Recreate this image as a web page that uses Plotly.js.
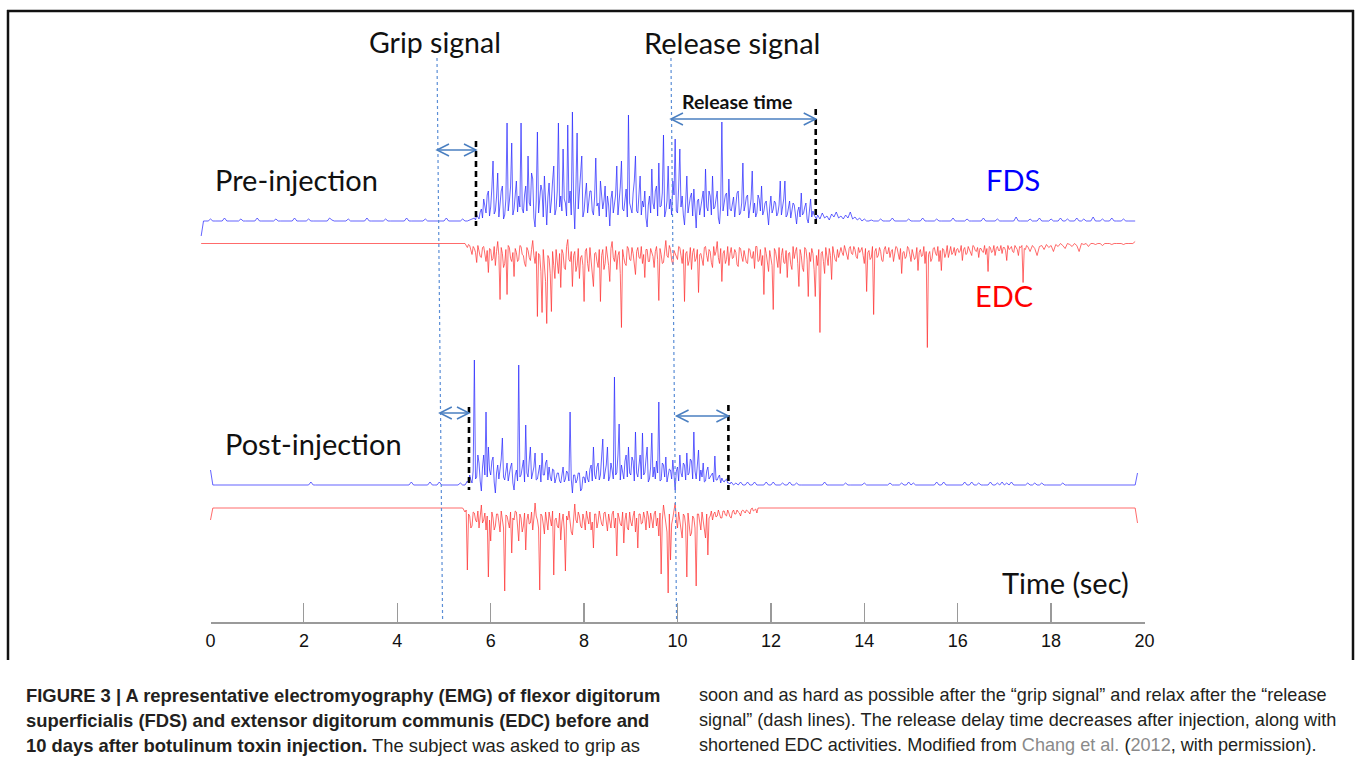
<!DOCTYPE html>
<html>
<head>
<meta charset="utf-8">
<script src="https://cdn.plot.ly/plotly-3.0.1.min.js"></script>
<style>html,body{margin:0;padding:0;background:#fff;}#chart{width:1357px;height:762px;}</style>
</head>
<body>
<div id="chart"></div>
<script>
// ---------------- DATA ----------------
// Sampling steps (s): resting parts and bursts
const restStep = 0.05;
const burstStep = 0.025;

// ---- Pre-injection FDS (a.u., positive up) ----
const preFDSRest1Start = -0.2;
const preFDSRest1 = [
-15,
0,0,0,2,0,0,0,0,0,3, 0,0,0,0,0,0,2,0,0,0,
0,0,0,3,0,0,0,0,0,0, 0,2,0,0,0,0,0,0,0,3,
0,0,0,0,0,2,0,0,0,0, 0,0,0,0,3,1,0,0,0,0,
0,0,2,0,0,0,0,0,0,0, 3,0,0,0,0,0,0,0,2,0,
0,0,0,0,0,0,0,3,0,0, 0,0,0,0,0,2,0,0,0,0,
0,0,0,0,3,0,0,0,0,0, 0,2,0,0,1,2
];
const preFDSBurstStart = 5.65;
const preFDSBurst = [
3,1,6,4,2,9,12,3,22,15,8,26,30,5,14,33,60,7,10,24,
48,4,18,30,35,2,6,22,98,10,20,34,78,6,12,28,40,9,25,14,
98,12,8,26,35,10,65,18,15,48,42,3,-6,20,89,8,22,36,30,4,
45,16,-4,24,38,8,20,40,55,6,12,30,98,14,25,10,72,22,18,5,
96,18,30,6,109,20,-8,34,88,12,28,50,65,4,10,26,38,8,22,30,
30,10,6,24,63,15,18,5,40,28,12,20,35,4,25,16,-5,22,30,8,
15,26,55,6,20,34,60,12,10,24,32,4,106,18,14,8,28,40,65,10,
8,22,45,6,20,14,30,3,-6,16,25,8,52,18,12,30,35,5,58,14,
15,28,86,4,10,20,55,12,22,6,40,26,82,10,8,34,72,14,25,6,
-4,18,45,8,18,24,28,5,32,12,-7,20,22,6,15,26,30,4,52,14,
10,30,25,6,45,12,14,22,30,3,-3,16,99,10,18,26,28,5,42,12,
10,20,24,4,15,28,30,6,8,18,58,10,16,24,26,3,12,22,50,8,
18,4,8,26,22,10,35,6,10,18,20,3,-4,14,25,8,12,20,18,5,
8,16,40,6,14,22,40,4,6,12,20,3,10,18,16,5,-3,10,14,4,
28,6,8,14,18,2,-2,10,22,4,10,6,3,2
];
const preFDSRest2Start = 13.0;
const preFDSRest2 = [
6,2,8,3,5,1,7,4,9,3, 5,2,6,3,9,2,4,1,3,0,
2,0,0,1,0,0,0,2,0,0, 0,0,3,0,0,0,0,0,0,2,
0,0,0,0,0,3,0,0,0,0, 0,2,0,0,0,0,0,0,3,0,
0,0,0,0,2,0,0,0,0,0, 0,3,0,0,0,0,0,2,0,0,
0,0,0,0,0,4,0,0,0,0, 0,2,0,0,0,3,0,0,0,0,
2,0,0,0,3,0,0,2,0,0, 0,3,0,0,2,0,0,0,4,0,
0,0,2,0,0,0,3,0,0,0, 0,2,0,0,0,0,0
];

// ---- Pre-injection EDC (a.u., downward) ----
const preEDCRest1Start = -0.2;
const preEDCRest1 = [
0,0,0,0,0,0,0,0,0,0, 0,0,0,0,0,0,0,0,0,0,
0,0,0,0,0,0,0,0,0,0, 0,0,0,0,0,0,0,0,0,0,
0,0,0,0,0,0,0,0,0,0, 0,0,0,0,0,0,0,0,0,0,
0,0,0,0,0,0,0,0,0,0, 0,0,0,0,0,0,0,0,0,0,
0,0,0,0,0,0,0,0,0,0, 0,0,0,0,0,0,0,0,0,0,
0,0,0,0,0,0,0,0,0,0, 0,0,0,0
];
const preEDCBurstStart = 5.5;
const preEDCBurst = [
-4,-1,-2,-6,-11,-3,-5,-9,-19,-2,-8,-13,-14,-4,-3,-10,-18,-7,-29,-5,
-6,-17,-15,-3,-22,-8,2,-12,-56,-4,-10,-24,-20,-6,-51,-2,-4,-15,-18,-9,
-33,-5,-9,-18,-16,-2,-3,-11,-12,-20,-23,-4,-7,-14,-17,-6,3,-12,-20,-8,
-73,-10,-12,-28,-69,-6,-25,-38,-80,-12,-15,-30,-68,-8,-22,-35,-6,-18,-30,-10,
-44,-6,-10,-24,-26,-3,4,-16,-18,-8,-43,-12,-8,-28,-22,-5,-35,-14,-12,-22,
-58,-8,-5,-20,-28,-4,-16,-30,-43,-10,-9,-18,-24,-6,-58,-12,-6,-26,-20,-3,
-12,-22,-38,-5,2,-14,-18,-7,-26,-12,-8,-30,-84,-6,-14,-20,-22,-3,-5,-16,
-17,-4,-10,-22,-31,-8,-4,-14,-15,-3,-20,-11,-34,-6,-6,-18,-18,-5,-9,-13,
-24,-8,-3,-16,-57,-5,-11,-20,-19,-4,3,-12,-14,-2,-6,-17,-21,-7,-10,-15,
-16,-3,-4,-12,-20,-6,-58,-10,-8,-22,-17,-4,-26,-9,-5,-18,-15,-6,-49,-11,
-10,-16,-22,-4,-3,-12,-18,-6,-8,-19,-24,-3,-12,-8,2,-14,-20,-5,-38,-10,
-7,-20,-16,-3,-22,-10,-4,-15,-14,-6,-9,-21,-23,-4,-5,-13,-18,-7,-12,-19,
-20,-5,-6,-14,-15,-8,-25,-3,-3,-18,-17,-6,-22,-12,-51,-4,-10,-20,-28,-7,
-14,-22,-66,-5,-8,-16,-24,-4,-30,-12,-5,-19,-20,-7,-34,-10,-9,-21,-26,-3,
-15,-8,-4,-20,-43,-6,-12,-24,-28,-4,-6,-16,-53,-9,-18,-5,-10,-26,-53,-12,
-22,-6,-89,-10,-8,-18,-30,-4,-14,-22,-5,-12,-36,-3,-10,-16,-18,-6,-14,-9,
-4,-9,-12,-2,-7,-14,-16,-5,-3,-10,-11,-3,-6,-13,-15,-4,-9,-7,-4,-12,
-20,-5,-48,-9,-7,-16,-14,-3,-71,-8,-5,-14,-12,-4,-8,-17,-18,-6,-3,-10,
-10,-4,-14,-8,-6,-18,-12,-3,-4,-10,-16,-5,-30,-9,-8,-15,-13,-3,-5,-11,
-18,-6,-10,-16,-14,-4,-27,-9,-6,-13,-12,-3,-20,-8,-104,-11,-8,-18,-15,-5,
-4,-10,-12,-3,-18,-7,-27,-5,-6,-14,-10,-2,-14,-8,-3,-11,-9,-4,-12,-6,
-5,-9,-8,-2,-17,-6,-4,-11,-10,-3,-6,-9,-12,-2,-3,-7,-8,-4,-14,-5,
-5,-8,-9,-2,-11,-5,-28,-3,-4,-9,-8,-2,-12,-5,-3,-7,-7,-2,-10,-4,
-4,-7,-17,-2,-6,-5,-3,-8,-9,-2,-5,-6,-12,-3,-4,-2,-39,-5,-6,-2
];
const preEDCRest2Start = 17.5;
const preEDCRest2 = [
-3,-8,-2,-5,-12,-3,-2,-6,-1,-4, -2,-8,-1,-3,0,-2,-5,0,-1,-3,
0,-2,-8,0,-1,0,-3,0,0,-1, 0,0,-2,0,0,0,-1,0,0,0,
0,-1,0,0,0,0,2
];

// ---- Post-injection FDS ----
const postFDSRest1Start = 0.0;
const postFDSRest1 = [
15,
0,0,0,0,0,0,0,0,0,0, 0,0,0,0,0,0,0,0,0,0,
0,0,0,0,0,0,0,0,0,0, 0,0,0,0,0,0,0,0,0,0,
0,0,3,0,0,0,0,0,0,0, 0,0,0,0,0,0,0,0,0,0,
0,0,0,0,0,0,0,0,0,0, 0,0,0,0,0,0,0,0,0,0,
0,0,0,0,0,3,0,0,0,0, 0,0,0,3,0,0,0,3,0,0,
0,0,0,0,0,0,2,0,0
];
const postFDSBurstStart = 5.5;
const postFDSBurst = [
4,2,10,5,2,14,125,6,8,30,22,4,-6,18,30,10,73,8,38,15,
10,24,28,3,-8,12,20,6,15,26,47,8,5,16,22,4,12,18,22,2,
-5,10,15,4,120,8,10,20,25,3,60,12,8,24,38,6,14,18,32,5,
6,14,20,3,32,10,10,22,25,5,18,8,4,16,15,2,8,12,12,4,
2,10,18,3,6,14,12,4,73,6,-8,10,10,2,5,12,12,-6,-4,8,
8,2,14,6,3,16,20,4,38,10,6,18,22,5,10,28,46,6,12,20,
38,4,8,22,15,6,108,10,12,30,61,5,20,14,6,24,30,8,38,12,
10,28,24,4,53,12,8,20,30,6,52,10,12,26,38,3,6,18,52,8,
18,6,24,12,83,4,5,22,20,8,28,3,10,16,15,6,25,10,-5,14,
18,4,30,12,8,22,20,5,32,10,12,26,24,6,53,14,6,20,35,4,
15,8,22,3,4,14,18,6,8,10,12,3,29,5,5,8,10,2,7,4,
3,5,6,2,2,1
];
const postFDSRest2Start = 11.15;
const postFDSRest2 = [
3,0,2,0,3,0,0,3,0,0, 3,0,0,0,0,3,0,0,3,0,
0,0,2,0,0,3,0,0,2,0, 0,0,0,0,0,0,0,0,0,0,
3,0,0,0,0,0,0,0,0,2, 0,0,0,0,0,0,0,2,0,0,
0,0,0,0,0,0,0,0,2,0, 0,0,0,2,0,0,3,0,2,0,
0,0,0,0,0,0,0,0,3,0, 0,3,0,0,0,0,0,0,0,0,
3,0,0,3,0,0,2,0,0,0, 0,3,0,0,2,0,3,0,2,0,
3,0,0,0,0,0,0,2,0,0, 2,0,0,2,0,0,0,0,0,0,
0,0,2,0,0,0,0,0,0,0, 0,0,0,0,0,0,0,0,0,0,
0,0,0,0,0,0,0,0,0,0, 0,0,0,0,12
];

// ---- Post-injection EDC ----
const postEDCRest1Start = 0.0;
const postEDCRest1 = [
-12,
0,0,0,0,0,0,0,0,0,0, 0,0,0,0,0,0,0,0,0,0,
0,0,0,0,0,0,0,0,0,0, 0,0,0,0,0,0,0,0,0,0,
0,0,0,0,0,0,0,0,0,0, 0,0,0,0,0,0,0,0,0,0,
0,0,0,0,0,0,0,0,0,0, 0,0,0,0,0,0,0,0,0,0,
0,0,0,0,0,0,0,0,0,0, 0,0,0,0,0,0,0,0,0,0,
0,0,0,0,0,0,0,0
];
const postEDCBurstStart = 5.45;
const postEDCBurst = [
-4,-2,-62,-6,-8,-20,-18,-4,-5,-12,-14,-3,-20,-9,3,-15,-12,-5,-22,-8,
-69,-12,-33,-4,-10,-22,-18,-6,-6,-14,-24,-3,-15,-20,-83,-7,-8,-16,-20,-4,
-45,-10,-12,-3,-4,-18,-33,-6,-10,-24,-18,-5,-42,-12,-6,-16,-15,-4,-22,-10,
5,-8,-12,-20,-82,-6,-8,-16,-26,-4,-14,-22,-4,-10,-18,-3,-67,-12,-10,-18,
-20,-5,-32,-14,-6,-22,-63,-8,-12,-3,-18,-24,-27,-6,4,-12,-15,-4,-8,-18,
-20,-6,-12,-22,-3,-10,-16,-4,-22,-14,-40,-6,-6,-20,-14,-3,-9,-16,-18,-5,
-4,-14,-23,-6,-12,-20,-6,-3,-20,-10,-48,-5,-10,-16,-18,-4,-35,-12,-5,-20,
-22,-4,-14,-18,-8,-3,-24,-10,-40,-6,-6,-16,-15,-4,-10,-22,-3,-8,-20,-5,
-12,-20,-6,-3,-18,-10,-28,-5,-66,-12,3,-8,-14,-24,-85,-6,-52,-16,-10,-4,
5,-12,-20,-4,-12,-22,-30,-6,-8,-18,-69,-5,-16,-28,-25,-8,-10,-20,-78,-6,
-6,-14,-22,-4,-14,-20,-30,-6,-47,-10,-8,-3,-12,-6,-4,-9,-8,-2,-6,-10,
-10,-3,-3,-7,-8,-2,-5,-9,-10,-4,-2,-6,-6,-2,-4,-5,-8,-3,-2,-4,
-5,-2,-3,-4,-6,-1,0,-3,-2,-1,-5,0,0,0
];
const postEDCRest2Start = 11.8;
const postEDCRest2 = [
0,0,0,0,0,0,0,0,0,0, 0,0,0,0,0,0,0,0,0,0,
0,0,0,0,0,0,0,0,0,0, 0,0,0,0,0,0,0,0,0,0,
0,0,0,0,0,0,0,0,0,0, 0,0,0,0,0,0,0,0,0,0,
0,0,0,0,0,0,0,0,0,0, 0,0,0,0,0,0,0,0,0,0,
0,0,0,0,0,0,0,0,0,0, 0,0,0,0,0,0,0,0,0,0,
0,0,0,0,0,0,0,0,0,0, 0,0,0,0,0,0,0,0,0,0,
0,0,0,0,0,0,0,0,0,0, 0,0,0,0,0,0,0,0,0,0,
0,0,0,0,0,0,0,0,0,0, 0,0,0,0,0,0,0,0,0,0,
0,-15
];

// Time axis ticks
const tickValues = [0,2,4,6,8,10,12,14,16,18,20];
const tickLabels = ["0","2","4","6","8","10","12","14","16","18","20"];
const tickMarkValues = [2,4,6,8,10,12,14,16,18,20];

// Event times (s)
const gripSignalTop = 4.85, gripSignalBottom = 4.97;
const releaseSignalTop = 9.86, releaseSignalBottom = 9.98;
const preGripOnset = 5.685, preReleaseEnd = 12.96;
const postGripOnset = 5.535, postReleaseEnd = 11.09;
const postGripArrowStart = 4.91, postReleaseArrowStart = 9.98;

// ---------------- HELPERS ----------------
const W = 1357, H = 762;
const X0PX = 210.5, PXPERSEC = 46.7;
const py = y => 1 - y / H;
const pp = x => x / W;
function sampleTimes(t0, step, n){ const a=[]; for(let i=0;i<n;i++) a.push(+(t0 + i*step).toFixed(4)); return a; }
function series(parts){
  let xs=[], ys=[];
  parts.forEach(p => { xs = xs.concat(sampleTimes(p[0], p[1], p[2].length)); ys = ys.concat(p[2]); });
  return {x:xs, y:ys};
}
function yax(base, top, bottom){
  return {domain:[py(bottom), py(top)], range:[-(bottom-base), base-top], visible:false, fixedrange:true, anchor:'x'};
}

const sPreFDS = series([[preFDSRest1Start, restStep, preFDSRest1],[preFDSBurstStart, burstStep, preFDSBurst],[preFDSRest2Start, restStep, preFDSRest2]]);
const sPreEDC = series([[preEDCRest1Start, restStep, preEDCRest1],[preEDCBurstStart, burstStep, preEDCBurst],[preEDCRest2Start, restStep, preEDCRest2]]);
const sPostFDS = series([[postFDSRest1Start, restStep, postFDSRest1],[postFDSBurstStart, burstStep, postFDSBurst],[postFDSRest2Start, restStep, postFDSRest2]]);
const sPostEDC = series([[postEDCRest1Start, restStep, postEDCRest1],[postEDCBurstStart, burstStep, postEDCBurst],[postEDCRest2Start, restStep, postEDCRest2]]);

const blue = 'rgba(40,40,255,0.72)';
const red = 'rgba(255,50,50,0.72)';

const traces = [
  {x:sPreFDS.x, y:sPreFDS.y, xaxis:'x', yaxis:'y', mode:'lines', line:{color:blue, width:1}, hoverinfo:'skip', showlegend:false},
  {x:sPreEDC.x, y:sPreEDC.y, xaxis:'x', yaxis:'y2', mode:'lines', line:{color:red, width:1}, hoverinfo:'skip', showlegend:false},
  {x:sPostFDS.x, y:sPostFDS.y, xaxis:'x', yaxis:'y3', mode:'lines', line:{color:blue, width:1}, hoverinfo:'skip', showlegend:false},
  {x:sPostEDC.x, y:sPostEDC.y, xaxis:'x', yaxis:'y4', mode:'lines', line:{color:red, width:1}, hoverinfo:'skip', showlegend:false},
  {x:[], y:[], xaxis:'x2', yaxis:'y', mode:'lines', hoverinfo:'skip', showlegend:false}
];

const shapes = [];
// frame
const frameCol = '#111';
shapes.push({type:'line', xref:'paper', yref:'paper', x0:pp(8), x1:pp(8), y0:py(10), y1:py(660), line:{color:frameCol, width:2.5}});
shapes.push({type:'line', xref:'paper', yref:'paper', x0:pp(7), x1:pp(1354), y0:py(11), y1:py(11), line:{color:frameCol, width:2.5}});
shapes.push({type:'line', xref:'paper', yref:'paper', x0:pp(1353), x1:pp(1353), y0:py(10), y1:py(660), line:{color:frameCol, width:2.5}});

// signal lines (dotted blue)
const sigCol = '#5b8ed6';
shapes.push({type:'line', xref:'x', yref:'paper', x0:gripSignalTop, x1:gripSignalBottom, y0:py(58), y1:py(621), line:{color:sigCol, width:1.2, dash:'dot'}});
shapes.push({type:'line', xref:'x', yref:'paper', x0:releaseSignalTop, x1:releaseSignalBottom, y0:py(58), y1:py(621), line:{color:sigCol, width:1.2, dash:'dot'}});

// black dashed response lines
const dashStyle = {color:'#000', width:2.6, dash:'6px,4px'};
shapes.push({type:'line', xref:'x', yref:'paper', x0:preGripOnset, x1:preGripOnset, y0:py(141), y1:py(226), line:dashStyle});
shapes.push({type:'line', xref:'x', yref:'paper', x0:preReleaseEnd, x1:preReleaseEnd, y0:py(109), y1:py(224), line:dashStyle});
shapes.push({type:'line', xref:'x', yref:'paper', x0:postGripOnset, x1:postGripOnset, y0:py(407), y1:py(490), line:dashStyle});
shapes.push({type:'line', xref:'x', yref:'paper', x0:postReleaseEnd, x1:postReleaseEnd, y0:py(405), y1:py(490), line:dashStyle});

// double arrows
const arrCol = '#4a7fc1';
function dblArrow(t0, t1, yPx){
  shapes.push({type:'line', xref:'x', yref:'paper', x0:t0, x1:t1, y0:py(yPx), y1:py(yPx), line:{color:arrCol, width:1.5}});
  shapes.push({type:'path', xref:'x', yref:'paper', xsizemode:'pixel', ysizemode:'pixel', xanchor:t0, yanchor:py(yPx), path:'M 12 6 L 0 0 L 12 -6', line:{color:arrCol, width:1.5}});
  shapes.push({type:'path', xref:'x', yref:'paper', xsizemode:'pixel', ysizemode:'pixel', xanchor:t1, yanchor:py(yPx), path:'M -12 6 L 0 0 L -12 -6', line:{color:arrCol, width:1.5}});
}
dblArrow(gripSignalTop, preGripOnset, 150);
dblArrow(releaseSignalTop, preReleaseEnd, 119);
dblArrow(postGripArrowStart, postGripOnset, 413);
dblArrow(postReleaseArrowStart, postReleaseEnd, 416);

// ---------------- ANNOTATIONS ----------------
const bigFam = 'Lato, "Open Sans", sans-serif';
const big = {family:bigFam, size:29, color:'#111'};
function txt(text, xPx, yPx, font, anchor){
  return {text:text, xref:'paper', yref:'paper', x:pp(xPx), y:py(yPx), xanchor:anchor||'center', yanchor:'middle', showarrow:false, font:font};
}
const capBold = {family:'"Liberation Sans", Arial, sans-serif', size:18.4, color:'#231f20'};
const capReg = {family:'"Liberation Sans", Arial, sans-serif', size:18.1, color:'#231f20'};
const gray = '#8a8a8a';
const annotations = [
  txt('Grip signal', 435, 42, {family:bigFam, size:28.5, color:'#111'}),
  txt('Release signal', 732, 42, big),
  txt('<b>Release time</b>', 737, 101, {family:bigFam, size:19.5, color:'#111'}),
  txt('Pre-injection', 296, 179, big),
  txt('FDS', 1013, 179, {family:bigFam, size:29, color:'#0000ff'}),
  txt('EDC', 1004, 295, {family:bigFam, size:29, color:'#ff0000'}),
  txt('Post-injection', 313, 443, big),
  txt('Time (sec)', 1065, 582, big),
  txt('<b>FIGURE 3 | A representative electromyography (EMG) of flexor digitorum</b>', 24, 695, capBold, 'left'),
  txt('<b>superficialis (FDS) and extensor digitorum communis (EDC) before and</b>', 24, 720, capBold, 'left'),
  txt('<b>10 days after botulinum toxin injection.</b> The subject was asked to grip as', 24, 745, capBold, 'left'),
  txt('soon and as hard as possible after the \u201cgrip signal\u201d and relax after the \u201crelease', 697, 695, capReg, 'left'),
  txt('signal\u201d (dash lines). The release delay time decreases after injection, along with', 697, 720, capReg, 'left'),
  txt('shortened EDC activities. Modified from <span style="color:'+gray+'">Chang et al.</span> (<span style="color:'+gray+'">2012</span>, with permission).', 697, 745, capReg, 'left')
];

const layout = {
  width: W, height: H,
  margin:{l:0, r:0, t:0, b:0, pad:0},
  paper_bgcolor:'#fff', plot_bgcolor:'rgba(0,0,0,0)',
  showlegend:false, hovermode:false,
  xaxis:{domain:[0,1], range:[-X0PX/PXPERSEC, (W-X0PX)/PXPERSEC], anchor:'free', position:py(628),
         tickmode:'array', tickvals:tickValues, ticktext:tickLabels, ticks:'', showline:false, showgrid:false, zeroline:false,
         tickfont:{family:'"Liberation Sans", Arial, sans-serif', size:18, color:'#111'}, fixedrange:true},
  xaxis2:{domain:[pp(X0PX), pp(X0PX + 20*PXPERSEC)], range:[0,20], anchor:'free', position:py(622),
          tickmode:'array', tickvals:tickMarkValues, ticks:'inside', ticklen:19, tickwidth:1.2, tickcolor:'#9a9a9a',
          showline:true, linecolor:'#9a9a9a', linewidth:1.5, showticklabels:false, showgrid:false, zeroline:false, fixedrange:true},
  yaxis: yax(221, 90, 240),
  yaxis2: yax(243.5, 228, 360),
  yaxis3: yax(485, 350, 500),
  yaxis4: yax(508, 494, 605),
  shapes: shapes,
  annotations: annotations
};

Plotly.newPlot('chart', traces, layout, {displayModeBar:false, staticPlot:true});
</script>
</body>
</html>
